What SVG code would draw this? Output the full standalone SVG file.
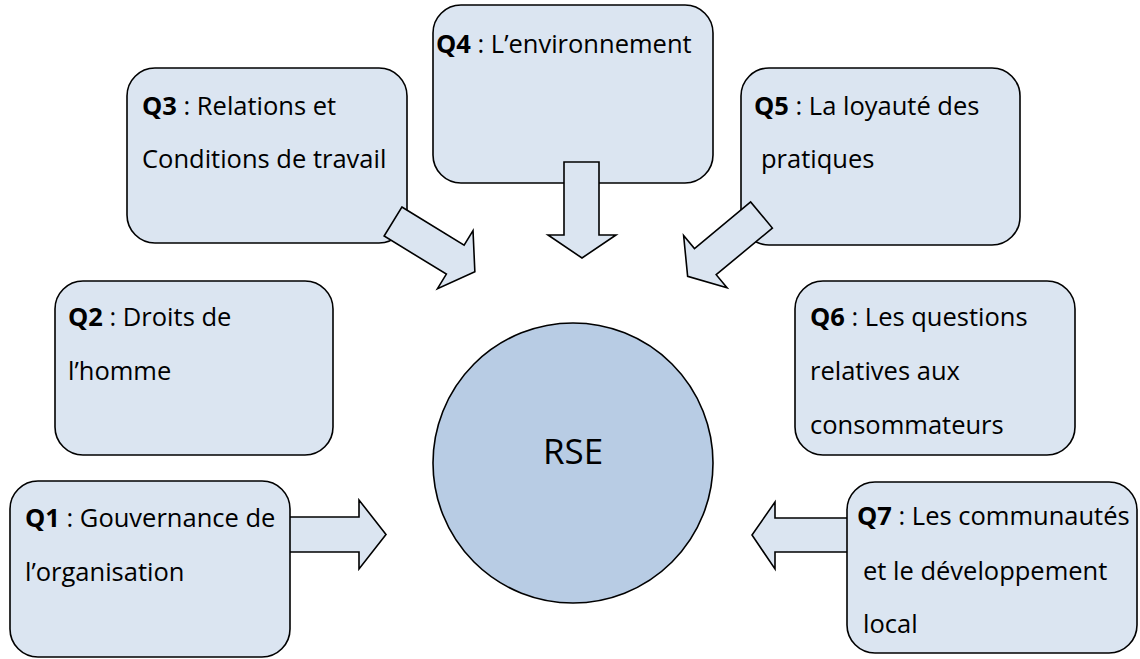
<svg xmlns="http://www.w3.org/2000/svg" width="1140" height="659" viewBox="0 0 1140 659">
  <style>
    .box { fill: #dbe5f1; stroke: #000; stroke-width: 1.6; }
    .arrow { fill: #dbe5f1; stroke: #000; stroke-width: 1.6; stroke-linejoin: miter; }
    .hub { fill: #b8cce4; stroke: #000; stroke-width: 1.6; }
    .lbl { font-family: "Open Sans", "Noto Sans", sans-serif; font-size: 25.5px; fill: #000; }
    .lbl tspan.k { font-weight: bold; }
    .hubtxt { font-family: "Open Sans", "Noto Sans", sans-serif; font-size: 35px; fill: #000; text-anchor: middle; }
  </style>
  <defs>
    <!-- block arrow pointing right, length 96, drawn from its tail centre -->
    <polygon id="blockArrow" points="0,-17 73,-17 73,-34 96,0 73,34 73,17 0,17"/>
  </defs>

  <!-- horizontal arrows sit beneath their boxes -->
  <g id="connectors-under">
    <polygon class="arrow" points="270,517 359,517 359,500 386,534.5 359,569 359,552 270,552"/>
    <polygon class="arrow" points="870,518 775,518 775,502 752,535 775,569 775,552 870,552"/>
  </g>

  <g id="q1">
    <rect class="box" x="10" y="481" width="280" height="176" rx="28"/>
    <text class="lbl" x="25" y="527"><tspan class="k">Q1</tspan> : Gouvernance de</text>
    <text class="lbl" x="25" y="581">l’organisation</text>
  </g>

  <g id="q7">
    <rect class="box" x="847" y="482" width="290" height="171" rx="28"/>
    <text class="lbl" x="857" y="525"><tspan class="k">Q7</tspan> : Les communautés</text>
    <text class="lbl" x="863" y="580">et le développement</text>
    <text class="lbl" x="863" y="633">local</text>
  </g>

  <g id="q2">
    <rect class="box" x="55" y="281" width="278" height="174" rx="28"/>
    <text class="lbl" x="68" y="326"><tspan class="k">Q2</tspan> : Droits de</text>
    <text class="lbl" x="68" y="380">l’homme</text>
  </g>

  <g id="q6">
    <rect class="box" x="795" y="281" width="280" height="174" rx="28"/>
    <text class="lbl" x="810" y="326"><tspan class="k">Q6</tspan> : Les questions</text>
    <text class="lbl" x="810" y="380">relatives aux</text>
    <text class="lbl" x="810" y="434">consommateurs</text>
  </g>

  <g id="q3">
    <rect class="box" x="127" y="68" width="280" height="175" rx="28"/>
    <text class="lbl" x="142" y="115"><tspan class="k">Q3</tspan> : Relations et</text>
    <text class="lbl" x="142" y="168">Conditions de travail</text>
  </g>

  <g id="q4">
    <rect class="box" x="433" y="5" width="280" height="178" rx="28"/>
    <text class="lbl" x="436" y="53"><tspan class="k">Q4</tspan> : L’environnement</text>
  </g>

  <g id="q5">
    <rect class="box" x="741" y="68" width="279" height="177" rx="28"/>
    <text class="lbl" x="754" y="115"><tspan class="k">Q5</tspan> : La loyauté des</text>
    <text class="lbl" x="761" y="168">pratiques</text>
  </g>

  <!-- diagonal and vertical arrows overlap their boxes -->
  <g id="connectors-over">
    <use href="#blockArrow" class="arrow" transform="translate(393,221.5) rotate(31.5)"/>
    <polygon class="arrow" points="564,162 599,162 599,235 616,235 582,258 548,235 564,235"/>
    <use href="#blockArrow" class="arrow" transform="translate(761.5,215) rotate(140.3)"/>
  </g>

  <g id="rse">
    <circle class="hub" cx="573" cy="463" r="140"/>
    <text class="hubtxt" x="573" y="464">RSE</text>
  </g>
</svg>
